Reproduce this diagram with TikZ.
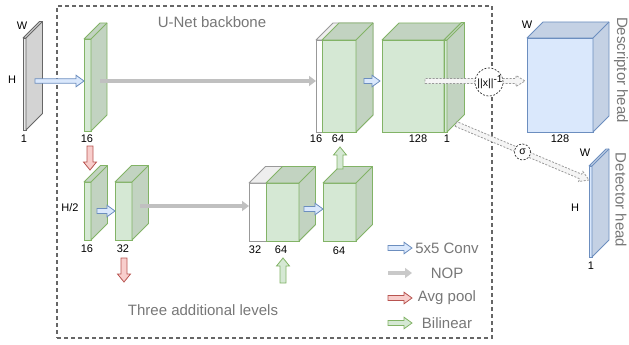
\documentclass[tikz,border=0pt]{standalone}
\usepackage{fontspec}
\setmainfont{Liberation Sans}
\usetikzlibrary{calc,arrows.meta}
\definecolor{gfront}{HTML}{D5E8D4}
\definecolor{gside}{HTML}{C2D3C1}
\definecolor{gline}{HTML}{82B366}
\definecolor{bfront}{HTML}{DAE8FC}
\definecolor{bside}{HTML}{C4D1E4}
\definecolor{bline}{HTML}{6C8EBF}
\definecolor{rfill}{HTML}{F8CECC}
\definecolor{rline}{HTML}{B85450}
\definecolor{nopc}{HTML}{C0C0C0}
\definecolor{txtg}{HTML}{777777}
\definecolor{boxc}{HTML}{666666}
\definecolor{wline}{HTML}{999999}
\definecolor{wtop}{HTML}{EEEEEE}
\definecolor{ifront}{HTML}{E8E8E8}
\definecolor{iside}{HTML}{D3D3D3}
\definecolor{iline}{HTML}{666666}
\definecolor{dfill}{HTML}{F5F5F5}
\definecolor{dline}{HTML}{999999}

\tikzset{
  cubefront/.style={inner sep=0pt, outer sep=0pt, anchor=north west, line width=0.8pt},
  cubeside/.style={line width=0.8pt, line join=round},
  conv/.style={fill=bfront, draw=bline, line width=0.8pt, line join=miter},
  pool/.style={fill=rfill, draw=rline, line width=0.8pt, line join=miter},
  bilin/.style={fill=gfront, draw=gline, line width=0.8pt, line join=miter},
  dasharrow/.style={fill=dfill, draw=dline, line width=0.8pt, dash pattern=on 2pt off 1.5pt},
  nop/.style={draw=nopc, line width=3.6pt, -{Triangle[width=10pt,length=7pt]}},
  lbl/.style={font=\fontsize{11}{13}\selectfont, text=black, inner sep=0pt},
  big/.style={font=\fontsize{15}{17}\selectfont, text=txtg, inner sep=0pt},
  dcirc/.style={circle, draw=black!80, fill=white, line width=0.7pt, dash pattern=on 2pt off 1.5pt, inner sep=0pt},
}

% cube: name, x, y (top-left of front face), w, h, depth, front fill, side fill, stroke
\newcommand\cube[9]{%
  \node[cubefront, minimum width=#4pt, minimum height=#5pt, fill=#7, draw=#9] (#1) at (#2,#3) {};
  \draw[cubeside, fill=#8, draw=#9] (#2,#3) -- ++(#6,-#6) -- ++(#4,0) -- ++(0,#5) -- ++(-#6,#6) -- ++(0,-#5) -- cycle;
  \draw[cubeside, draw=#9] (#2+#4,#3) -- ++(#6,-#6);
}

% block arrow: [style]{start}{end}{shaft half width}{head half width}{head length}
\newcommand\barrow[6][]{%
  \path let \p1=(#2), \p2=(#3) in \pgfextra{\xdef\bax{\x1}\xdef\bay{\y1}\xdef\bbx{\x2}\xdef\bby{\y2}};
  \pgfmathsetmacro\bang{atan2(\bby-\bay,\bbx-\bax)}%
  \pgfmathsetmacro\blen{veclen(\bbx-\bax,\bby-\bay)}%
  \begin{scope}[shift={(\bax,\bay)}, rotate=\bang]
    \draw[#1] (0pt,-#4pt) -- (\blen pt-#6pt,-#4pt) -- (\blen pt-#6pt,-#5pt) -- (\blen pt,0pt)
      -- (\blen pt-#6pt,#5pt) -- (\blen pt-#6pt,#4pt) -- (0pt,#4pt) -- cycle;
  \end{scope}%
}

\begin{document}
\begin{tikzpicture}[x=1pt,y=-1pt]
\useasboundingbox (0,0) rectangle (629,345);

% backbone frame
\node[draw=boxc, line width=1.3pt, dash pattern=on 4pt off 3pt, inner sep=0pt, outer sep=0pt,
      minimum width=435pt, minimum height=332pt, anchor=north west] (frame) at (57,6) {};
\node[big] (title) at (212,22) {U-Net backbone};
\node[big] (levels) at (203,310) {Three additional levels};

% input
\cube{in}{23}{38}{3}{92}{16.5}{ifront}{iside}{iline}
\node[lbl] (inW) at (22,26) {W};
\node[lbl] (inH) at (12,80) {H};
\node[lbl] (in1) at (24,139) {1};

% level 1 encoder
\cube{e1}{84}{39}{7}{92}{16}{gfront}{gside}{gline}
\node[lbl] (e1l) at (87,139) {16};

% level 2
\cube{e2a}{84}{182}{7}{58}{16.5}{gfront}{gside}{gline}
\cube{e2b}{115}{182}{17}{58}{16.5}{gfront}{gside}{gline}
\node[lbl] (h2) at (70,208) {H/2};
\node[lbl] (e2al) at (87,249) {16};
\node[lbl] (e2bl) at (123,249) {32};

\cube{d2w}{249}{183}{50}{58}{16.5}{white}{wtop}{wline}
\cube{d2g}{266}{183}{33}{58}{16.5}{gfront}{gside}{gline}
\node[lbl] (d2wl) at (255,250) {32};
\node[lbl] (d2gl) at (281,250) {64};

\cube{d2c}{323}{183}{33}{58}{16.5}{gfront}{gside}{gline}
\node[lbl] (d2cl) at (339,251) {64};

% level 1 decoder
\cube{d1w}{316}{40}{40}{92}{17}{white}{wtop}{wline}
\cube{d1g}{322}{40}{34}{92}{17}{gfront}{gside}{gline}
\node[lbl] (d1wl) at (316,139) {16};
\node[lbl] (d1gl) at (338,139) {64};

\cube{f}{382}{40}{62}{92}{17}{gfront}{gside}{gline}
\cube{f1}{444}{40}{3}{92}{17.5}{gfront}{gside}{gline}
\node[lbl] (fl) at (418,139) {128};
\node[lbl] (f1l) at (447,139) {1};

% heads
\cube{desc}{527}{38}{66}{94}{16}{bfront}{bside}{bline}
\node[lbl] (descW) at (527,25) {W};
\node[lbl] (descl) at (560,139) {128};
\node[big, rotate=-90] (desct) at (621,70) {Descriptor head};

\cube{det}{589}{166}{3}{91}{17}{bfront}{bside}{bline}
\node[lbl] (detW) at (585,153) {W};
\node[lbl] (detH) at (575,208) {H};
\node[lbl] (det1) at (591,266) {1};
\node[big, rotate=-90] (dett) at (621,200) {Detector head};

% connector end points
\coordinate (c1s) at (35,81);   \coordinate (c1e) at (e1.west |- c1s);
\coordinate (c2s) at (97,211);  \coordinate (c2e) at (e2b.west |- c2s);
\coordinate (c3s) at (304,209); \coordinate (c3e) at (d2c.west |- c3s);
\coordinate (c4s) at (364,81);  \coordinate (c4e) at ($(f.west |- c4s)+(-2,0)$);
\coordinate (p1s) at (90,146);  \coordinate (p1e) at (90,170);
\coordinate (p2s) at (124,258); \coordinate (p2e) at (124,282);
\coordinate (u1s) at (283,283); \coordinate (u1e) at (283,258);
\coordinate (u2s) at (340,169); \coordinate (u2e) at (340,147);
\coordinate (n1s) at (100,81);  \coordinate (n1e) at (d1w.west |- n1s);
\coordinate (n2s) at (140,206); \coordinate (n2e) at (d2w.west |- n2s);
\coordinate (d1s) at (425,81);  \coordinate (d1e) at ($(desc.west |- d1s)+(-2,0)$);
\coordinate (d2s) at (456,124); \coordinate (d2e) at (589,180);

% arrows
\barrow[conv]{c1s}{c1e}{2.2}{5.8}{8}
\barrow[conv]{c2s}{c2e}{2.5}{5.8}{8}
\barrow[conv]{c3s}{c3e}{2.5}{5.8}{8}
\barrow[conv]{c4s}{c4e}{2.5}{5.8}{8}
\barrow[pool]{p1s}{p1e}{3}{6.5}{8}
\barrow[pool]{p2s}{p2e}{3}{6.5}{8}
\barrow[bilin]{u1s}{u1e}{3}{6.5}{8}
\barrow[bilin]{u2s}{u2e}{3}{6.5}{8}
\draw[nop] (n1s) -- (n1e);
\draw[nop] (n2s) -- (n2e);
\barrow[dasharrow]{d1s}{d1e}{2.5}{5.5}{9}
\barrow[dasharrow]{d2s}{d2e}{2.5}{5.5}{9}

% operations
\node[dcirc, minimum size=28pt] (norm) at (489,82) {};
\node[inner sep=0pt, font=\fontsize{10.5}{12}\selectfont] (normt) at (490,82) {\textbar\textbar x\textbar\textbar\raisebox{4pt}{\fontsize{10}{12}\selectfont -1}};
\node[dcirc, minimum size=16pt, font=\fontsize{10.5}{12}\selectfont] (sig) at ($(d2s)!0.5!(d2e)$) {σ};

% legend
\foreach \yy/\txt [count=\i] in {248/5x5 Conv, 273/NOP, 298/Avg pool, 323/Bilinear}{
  \coordinate (ls\i) at (388,\yy);
  \coordinate (le\i) at (412,\yy);
  \node[big] (lt\i) at (447,\yy) {\txt};
}
\barrow[conv]{ls1}{le1}{2.5}{5.8}{8}
\draw[nop, draw=nopc!85] (ls2) -- (le2);
\barrow[pool]{ls3}{le3}{2.5}{5.8}{8}
\barrow[bilin]{ls4}{le4}{2.5}{5.8}{8}
\end{tikzpicture}
\end{document}
